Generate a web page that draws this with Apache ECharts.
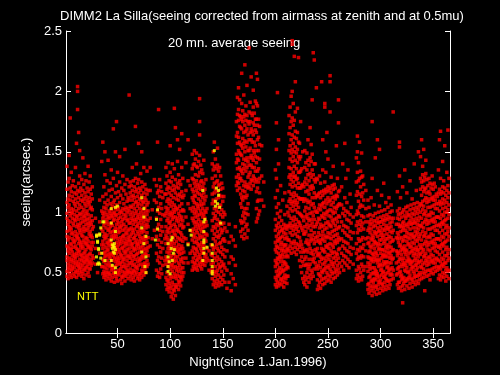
<!DOCTYPE html>
<html>
<head>
<meta charset="utf-8">
<script src="https://cdn.jsdelivr.net/npm/echarts@6/dist/echarts.min.js"></script>
<style>
  html, body { margin: 0; padding: 0; background: #000; }
  #main { width: 500px; height: 375px; }
</style>
</head>
<body>
<div id="main"></div>
<script>
// each row: night, then the 20 mn seeing values of that night (in 1/100 arcsec)
const redJanMar = [
  [2, 47,51,60,63,72,80,84,95,99,108,119,138],
  [3, 45,54,57,68,71,77,90,93,104,111,125],
  [4, 50,53,62,66,79,85,88,101,106,114,128,147],
  [5, 48,56,59,70,74,87,92,97,110,120,178],
  [6, 46,52,61,69,73,82,86,99,103,117,133],
  [7, 53,55,64,67,78,83,95,100,113,122],
  [8, 49,58,60,71,76,89,91,102,109,126],
  [9, 47,54,63,65,75,81,94,98,107,116],
  [10, 51,57,62,72,77,84,93,105,111,121,137],
  [11, 46,50,59,66,70,80,88,96,101,115,157],
  [12, 52,56,64,69,79,82,90,97,108,118,185,200,204],
  [13, 48,55,58,67,74,78,87,94,103,112,124,166],
  [14, 50,53,61,68,76,85,89,99,106,117,130,151],
  [15, 54,57,65,71,73,83,91,98,110,120],
  [16, 47,51,60,64,75,81,86,95,104,114,127],
  [17, 49,56,62,70,72,80,92,100,109,118,145],
  [18, 45,53,59,66,77,84,88,97,102,111,123],
  [19, 52,58,63,67,75,86,93,96,107,116,132],
  [20, 48,54,61,69,74,79,90,99,105,113,126],
  [21, 55,60,64,73,78,85,94,101,110,120],
  [22, 50,57,62,71,76,87,91,98,108,117,138],
  [23, 47,53,59,65,72,82,89,95,106,112,125],
  [24, 53,58,66,70,80,84,92,103,109,119,130],
  [25, 56,61,69,75,81,90,97,104,115],
  [26, 58,64,72,79,86,93,102,111,121],
  [27, 62,75,88],
  [29, 57,70,95],
  [31, 50,81],
  [33, 66,92,110],
  [35, 55,73,86,101,142],
  [36, 49,55,61,70,76,84,95,99,113,158],
  [37, 46,51,59,66,73,80,89,97,104,121],
  [38, 48,54,63,67,78,82,91,100,108,131,150],
  [39, 44,50,57,64,71,79,87,94,103,115],
  [40, 47,53,60,68,75,81,92,98,106,126],
  [41, 50,56,65,69,74,85,90,96,110,143],
  [42, 45,49,58,63,72,77,86,95,101,118],
  [43, 48,55,62,66,76,83,88,99,107,124],
  [44, 43,52,56,65,73,80,91,97,102,113,135],
  [45, 46,54,60,71,74,84,89,96,105,119],
  [46, 49,53,64,67,78,81,93,99,108,128,169],
  [47, 42,50,55,62,70,79,85,94,100,110],
  [48, 47,51,59,68,72,82,87,97,103,116,150],
  [49, 45,56,61,66,75,80,90,98,106,122,175],
  [50, 43,49,58,63,71,78,86,93,102,112,133],
  [51, 48,52,60,69,73,83,91,95,104,117],
  [52, 50,57,62,67,76,84,88,99,108,125,146],
  [53, 44,53,58,65,74,79,87,96,101,114],
  [54, 41,47,55,64,70,77,89,92,100,120],
  [55, 46,51,59,62,71,80,85,94,103,111,130],
  [56, 48,55,61,68,75,81,90,98,107,118],
  [57, 43,50,57,66,72,78,86,95,102,123,152],
  [58, 47,54,63,67,74,83,88,97,104,115],
  [59, 49,52,60,69,76,82,93,100,109,127],
  [60, 45,51,56,64,73,79,85,94,103,112],
  [61, 50,58,63,70,77,86,91,101,110,121,197],
  [62, 47,53,62,67,76,80,91,98,105,116,125],
  [63, 44,50,58,65,73,82,87,95,104,113,122],
  [64, 49,56,60,71,74,85,93,100,110,118,137],
  [65, 46,52,63,68,78,83,90,97,106,114,126],
  [66, 43,51,57,64,70,79,86,94,103,112,121],
  [67, 48,55,61,69,75,81,92,99,108,117,128,171],
  [68, 50,54,65,72,77,88,94,101,109,119,140],
  [69, 45,53,59,66,74,84,89,96,105,113,124],
  [70, 47,56,62,70,73,82,91,98,107,116,127,157],
  [71, 44,49,60,67,76,80,87,95,103,111,120],
  [72, 49,57,61,71,78,85,93,100,110,118,132],
  [73, 46,52,63,68,75,83,90,97,106,114,125,150],
  [74, 51,55,64,72,79,86,95,102,109,121],
  [75, 48,57,62,69,77,84,92,99,108,116,137],
  [76, 53,58,66,74,80,89,96,104,112,123],
  [77, 50,56,65,70,78,87,94,101,110,119],
  [78, 55,60,68,75,83,90,98,106,115,134],
  [79, 57,64,71,79,88,93,101,108,118],
  [81, 72,95,118,137],
  [83, 78,102],
  [85, 85,110,127],
  [87, 52,66,80,95,108,122],
  [88, 47,60,73,87,101,116,158],
  [89, 50,63,77,90,104,118,185],
  [90, 46,58,71,85,99,113,127]
];
const redAprJun = [
  [91, 53,67,81,94,107,121],
  [92, 49,62,75,88,103,117],
  [93, 56,70,84,98,112],
  [95, 60,78,97,115],
  [96, 40,46,57,63,74,81,88,99,104,115,124,137],
  [97, 36,44,50,61,67,79,84,93,101,109,119,130],
  [98, 38,43,55,60,70,77,86,95,103,111,121,141],
  [99, 34,41,48,58,66,72,83,91,98,107,116,126],
  [100, 37,45,53,62,68,75,87,92,100,110,120,133,155],
  [101, 30,39,47,56,64,73,80,89,97,105,114,125],
  [102, 33,42,51,57,69,76,84,94,99,108,118,129,140],
  [103, 28,36,46,54,61,71,78,85,96,102,112,122],
  [104, 35,40,49,59,65,74,82,90,100,106,119,136,186],
  [105, 31,38,47,55,63,69,81,88,96,104,116,127,170],
  [106, 38,45,52,60,71,76,85,93,102,111,121],
  [107, 40,48,54,63,68,79,86,95,103,114,124,142,160],
  [108, 36,43,51,58,67,73,84,92,99,110,120,131],
  [109, 42,47,56,65,70,78,89,97,105,115,126,152],
  [110, 39,46,53,61,69,77,83,94,101,113,123],
  [111, 44,50,59,66,72,81,90,96,107,117,137,165],
  [112, 47,54,62,70,76,87,93,102,112,128],
  [113, 50,58,67,79,88,101,114],
  [115, 62,78,96,118,141],
  [117, 58,74,90,107,126,160],
  [119, 66,85,103,122],
  [121, 52,59,68,77,84,95,101,112,119,128,136,148],
  [122, 55,62,71,80,86,93,104,110,117,127,139],
  [123, 53,58,66,75,82,91,99,108,114,124,140,151],
  [124, 57,64,70,79,88,96,102,113,121,131,144],
  [125, 54,60,69,76,85,92,100,107,118,126,138,149],
  [126, 52,61,67,74,83,90,97,105,116,123,137],
  [127, 56,63,72,78,87,94,103,111,120,130,142],
  [128, 58,65,73,81,89,98,106,115,122,133,147,164,175,194],
  [129, 55,62,70,79,86,92,101,109,119,125,139],
  [130, 53,59,68,75,84,90,99,106,114,126,135],
  [131, 57,66,72,80,87,96,103,112,121,132],
  [132, 60,67,74,83,91,98,107,116,124,143],
  [133, 56,63,71,78,88,95,101,110,119],
  [134, 59,65,76,82,92,100,113,127],
  [135, 62,70,81,89,103],
  [137, 52,60,68],
  [139, 50,57,65,73],
  [140, 45,53,64,72,85,93,107,115,128,140],
  [141, 40,49,58,69,78,88,99,110,121,135,150],
  [142, 43,51,62,71,82,95,103,116,124,138,158],
  [143, 38,47,55,66,76,87,97,108,119,130,144],
  [144, 41,50,60,73,80,90,101,111,125,136],
  [145, 44,52,63,70,84,94,104,117,126,139,153],
  [146, 39,48,57,68,79,89,100,112,122,134],
  [147, 42,54,61,74,81,92,105,114,123,137],
  [148, 46,55,67,75,86,98,106,119,130],
  [149, 40,51,59,71,83,90,102,113,124],
  [150, 44,56,65,77,85,96,109,120],
  [151, 48,57,69,78,91,100,113],
  [152, 42,54,63,76,87,98],
  [154, 37,52,68,84],
  [156, 42,58,75,90],
  [158, 35,49,63,80],
  [160, 45,61,77],
  [162, 40,56,72,88],
  [163, 122,129,141,148,163,175],
  [164, 118,125,136,144,157,166,181,195],
  [165, 124,131,143,151,162,176,185,203],
  [166, 120,128,137,149,158,171,180,193],
  [167, 84,93,107,115,128,135,148,156,170,179],
  [168, 80,91,104,112,126,134,147,155,169,177,190,215],
  [169, 86,97,110,118,132,140,153,161,175,184],
  [170, 78,92,100,113,122,136,144,157,166,179,197],
  [171, 82,95,103,117,125,139,150,159,172,181,222],
  [172, 88,99,112,121,134,143,154,167,176,188],
  [173, 79,90,103,114,123,137,145,158,169,180,205],
  [174, 85,98,107,120,129,142,151,164,175],
  [175, 121,131,139,151,160,173,183,236],
  [176, 124,133,145,153,166,175,191],
  [177, 119,127,139,147,160,169,182,212],
  [178, 126,137,145,158,167,180],
  [179, 122,130,143,151,164,174,187,201],
  [180, 128,137,149,158,172,182],
  [181, 125,134,146,155,168,177,192]
];
const redJulSep = [
  [182, 92,103,117,127,141,151,166,177,190,215],
  [183, 95,109,120,134,145,160,172,188,210],
  [184, 98,110,125,136,151,162,177],
  [185, 101,116,128,144,156,171],
  [187, 110,130,155],
  [189, 105,125],
  [200, 40,46,55,60,69,75,85,94,112,135],
  [201, 38,44,51,58,67,72,80,89,104,128,152,174],
  [202, 42,48,57,62,71,77,87,99,118,199],
  [203, 39,47,52,61,66,76,82,91,107,140,160],
  [204, 41,49,54,63,70,78,84,96],
  [205, 44,50,59,64,73,79,88,101,122],
  [206, 40,45,53,62,68,75,85,93],
  [207, 43,51,56,65,70,80,86,110],
  [208, 38,46,52,59,68,73,83,90],
  [209, 42,48,58,63,72,78,87,98,116],
  [210, 45,53,57,67,73,82,89],
  [211, 41,47,55,64,69,79,86,105],
  [212, 47,54,63,70,77,88,100],
  [213, 68,77,89,97,109,117,129,137,151,165,180],
  [214, 72,83,91,103,111,123,131,144,155,170,187],
  [215, 66,75,87,95,107,115,127,136,149,160,175,196],
  [216, 70,81,89,101,109,121,130,142,152,164,178,200,242,239],
  [217, 74,85,93,105,113,125,133,146,157,172,190],
  [218, 67,76,88,96,108,116,129,138,150,162,176,229],
  [219, 71,82,90,102,110,122,130,143,154,167,183,208],
  [220, 65,74,86,94,106,114,127,136,149,161],
  [221, 69,80,88,100,108,120,128,141,152,166,186],
  [222, 73,84,92,104,112,124,133,146,158,228],
  [223, 60,71,79,91,99,111,120,133,144,157],
  [224, 55,67,76,89,98,111,120,134,146,175],
  [225, 50,63,73,87,97,111,122,136],
  [226, 45,59,70,85,96,111,123,150],
  [227, 42,56,67,82,93,109,121],
  [228, 40,47,61,68,82,88,101,111,125,137,151],
  [229, 44,56,63,75,84,96,104,117,128,141],
  [230, 38,50,57,69,77,90,98,110,123,135,149],
  [231, 46,53,67,74,87,95,108,118,131,143,160],
  [232, 42,55,61,73,81,93,103,115,126,139],
  [233, 48,57,70,76,89,99,109,121,132,145,170],
  [234, 45,52,66,78,85,94,106,119,129,142,156],
  [235, 50,61,68,81,91,100,112,122,135,148,193],
  [236, 47,59,65,77,88,97,107,120,131,232],
  [237, 53,62,74,83,94,104,116,127,140,226],
  [238, 58,69,79,88,101,112,125,140],
  [239, 55,67,76,90,100,114,128,203],
  [240, 36,44,53,64,70,80,92,100,113,127],
  [241, 39,49,56,65,77,83,95,103,115],
  [242, 42,48,59,66,75,87,94,106,116,130],
  [243, 37,47,54,63,74,81,90,102,112,124],
  [244, 44,51,61,70,77,88,97,105,117,208],
  [245, 40,50,57,68,78,84,96,107,114,135,160],
  [246, 45,52,62,69,81,89,99,108,118],
  [247, 41,53,58,67,76,86,95,104,116,125,187,190],
  [248, 46,55,60,72,79,91,98,110,119,133,150],
  [249, 43,50,63,71,80,87,100,107,117,166],
  [250, 48,54,65,73,83,92,101,112,121,144],
  [251, 44,56,61,70,79,90,97,109,118],
  [252, 47,53,64,74,82,89,102,110,120,183,208,213],
  [253, 42,51,59,68,78,88,96,106,116,129],
  [254, 49,57,66,73,84,93,101,112,122],
  [255, 45,55,62,71,80,91,99,108,119,138],
  [256, 50,58,67,76,85,94,104,113,123],
  [257, 46,53,63,74,81,89,100,111,120],
  [258, 51,60,66,77,86,95,103,114,155],
  [259, 48,56,65,75,82,92,105,113,128],
  [260, 53,62,69,79,87,97,106,117,174,193],
  [261, 50,58,70,77,88,96,107,118],
  [263, 55,66,78,92,106,121],
  [264, 60,72,85,99,140],
  [265, 52,64,76,89,103],
  [266, 58,70,83,97,112,157],
  [267, 63,75,88,101,128],
  [268, 56,68,81,94,108],
  [269, 61,74,87,100,135],
  [270, 54,67,80,93],
  [271, 59,71,84,98,115],
  [272, 65,78,91,104]
];
const redOctDec = [
  [274, 57,70,83,96],
  [277, 45,52,66,74,89,98,114,125,145],
  [278, 48,61,69,83,92,101,117,133,150,163],
  [279, 43,55,63,78,86,99,109,126,141],
  [280, 46,53,68,76,90,104,115,128,158],
  [281, 50,62,71,85,93,106,121,134],
  [282, 44,57,64,77,88,97,113,129,149],
  [283, 47,55,70,79,91,105,116,130],
  [284, 52,63,73,86,96,110,123],
  [286, 55,68,78,92,103,118],
  [288, 36,40,51,58,63,74,79,85,97,110],
  [289, 33,41,46,55,62,67,75,87,92,104],
  [290, 38,47,53,57,68,72,83,90,98],
  [291, 35,43,49,60,62,71,78,86,94,112],
  [292, 31,39,44,54,61,66,77,81,91,128,175],
  [293, 37,42,50,59,65,73,79,88,97],
  [294, 34,45,49,54,63,70,76,84,93,106],
  [295, 39,44,52,61,67,75,82,89,99,145],
  [296, 32,38,48,51,60,66,74,83,92],
  [297, 36,46,49,58,64,72,80,87,95,118,160],
  [298, 40,43,55,61,69,74,84,91,100],
  [299, 33,42,47,56,60,70,77,85,92,105,152],
  [300, 37,44,52,57,66,73,81,88,96],
  [301, 41,48,53,62,69,77,83,92,101,114],
  [302, 35,40,50,56,64,69,79,86,94],
  [303, 38,46,51,59,65,74,81,90,97,124],
  [304, 42,47,57,63,68,76,85,93,102],
  [305, 36,45,49,58,64,71,78,87,95,108],
  [306, 39,44,54,59,67,73,82,89,98],
  [307, 43,50,55,63,70,78,86,94,104],
  [308, 37,43,52,58,66,72,80,87,96,112],
  [309, 40,48,53,62,67,75,84,91,100],
  [310, 44,49,58,64,71,79,88,95,106],
  [311, 48,54,61,68,76,83,92,101],
  [312, 45,52,62,69,77,85,95,183],
  [315, 48,58,68,79,90],
  [316, 40,49,53,64,67,78,83,95,101,117],
  [317, 37,42,54,59,66,75,81,90,98],
  [318, 42,50,55,61,72,78,88,94,103,130,154,158],
  [319, 38,47,51,62,68,73,84,89,99,112],
  [320, 35,44,48,57,65,71,79,88,96],
  [321, 25,39,45,55,60,69,76,85,91,100,121],
  [322, 41,46,57,62,70,77,87,92,102],
  [323, 36,43,52,58,67,72,80,89,97,135],
  [324, 43,51,56,65,69,80,85,95,104],
  [325, 39,45,54,60,68,76,83,90,100,116],
  [326, 44,50,59,63,73,79,88,97,105],
  [327, 37,46,51,61,66,74,82,91,98],
  [328, 41,48,57,60,71,78,86,93,102,126],
  [329, 45,53,58,67,72,81,90,96,106],
  [330, 38,44,55,59,68,75,82,91,99,111],
  [331, 42,51,54,64,70,79,87,94,103],
  [332, 46,49,60,66,74,80,91,98,107,140],
  [333, 40,47,56,62,69,77,84,92,101],
  [334, 43,52,57,65,71,81,87,95,104,118],
  [335, 47,54,60,68,76,83,90,99,108],
  [336, 41,48,58,63,69,78,86,93,102,150],
  [337, 44,50,59,66,73,80,89,96,105],
  [338, 48,55,65,71,82,89,100,107,119,128,146],
  [339, 45,54,60,70,77,88,95,106,114,125,160],
  [340, 50,57,67,73,84,91,102,109,121,131,138],
  [341, 46,53,63,69,80,87,98,105,117,126,152],
  [342, 35,49,58,64,74,81,92,99,110,119,129],
  [343, 51,60,66,76,83,94,101,112,120,132,143],
  [344, 47,56,62,72,79,90,97,108,116,127],
  [345, 52,59,69,75,86,93,104,111,122],
  [346, 48,57,63,73,80,91,98,109,117,128],
  [347, 44,52,62,68,79,86,97,104,115,124],
  [348, 50,59,65,75,82,93,100,111,120],
  [349, 53,60,70,76,87,94,105,112,123,130],
  [350, 49,58,64,74,81,92,99,110,119],
  [351, 54,61,71,77,88,95,106,113,124],
  [352, 51,58,68,74,85,92,103,110,121],
  [353, 55,62,72,78,89,96,107,115],
  [354, 52,61,67,78,85,96,103,113],
  [355, 45,54,60,71,78,89,96,107,116,135],
  [356, 48,55,65,72,83,90,101,109,119,160],
  [357, 44,53,59,70,77,88,95,106,115,128,167],
  [358, 47,56,62,73,80,91,98,108,117],
  [359, 50,57,67,74,85,92,103,111,121,142],
  [360, 46,55,61,72,79,90,97,107,116,126],
  [361, 49,58,64,75,82,93,100,110,120,155],
  [362, 43,52,58,69,76,87,94,104,114],
  [363, 47,54,64,71,82,89,100,108,118,133],
  [364, 51,60,66,77,84,95,102,112,122,168],
  [365, 45,52,62,69,80,87,98,106,116,128]
];
// NTT points: [night, seeing in 1/100 arcsec]
const yellowNTT = [
  [30,81],[33,81],[31,75],[34,87],[32,70],[30,63],[35,66],[32,58],[33,57],[38,60],
  [30,80],[33,82],[31,76],[32,69],[34,62],[31,57],[36,92],
  [44,103],[48,104],[44,91],[48,84],[44,77],[47,74],[45,70],[46,67],[47,66],[48,69],
  [44,60],[45,56],[48,54],[48,50],[37,92],[50,105],[46,72],[45,73],[47,71],
  [73,112],[75,103],[75,96],[73,87],[77,80],[75,74],[73,67],[77,63],[76,55],[77,50],
  [87,94],[88,86],[86,77],[88,102],
  [102,79],[101,70],[104,69],[98,63],[102,60],[98,55],[100,49],[98,74],[101,77],[99,59],[98,51],[103,66],
  [117,73],[119,85],[120,81],[132,92],[132,75],[135,71],[131,118],[133,94],[132,84],[132,77],[132,70],[132,66],[131,60],
  [140,73],[140,66],[140,60],[140,55],[140,49],[140,51],
  [142,151],[144,120],[146,118],[146,114],[143,109],[145,107],[143,105],[147,104],[148,91]
];
const xTicks = [50, 100, 150, 200, 250, 300, 350];

function toPoints(rows) {
  const pts = [];
  rows.forEach(function (row) {
    for (let i = 1; i < row.length; i++) pts.push([row[0], row[i] / 100]);
  });
  return pts;
}
const redData = toPoints(redJanMar.concat(redAprJun, redJulSep, redOctDec));
const yellowData = yellowNTT.map(function (p) { return [p[0], p[1] / 100]; });

const font = 'Liberation Sans, Arial, sans-serif';
const white = '#ffffff';
const chart = echarts.init(document.getElementById('main'));
const option = {
  backgroundColor: '#000000',
  animation: false,
  title: {
    text: 'DIMM2 La Silla(seeing corrected from airmass at zenith and at 0.5mu)',
    left: 55,
    top: 5,
    textStyle: { color: white, fontSize: 13, fontWeight: 'normal', fontFamily: font }
  },
  grid: { left: 66, right: 50, top: 31, bottom: 42 },
  xAxis: [{
    type: 'value', min: 1, max: 366, position: 'bottom',
    name: 'Night(since 1.Jan.1996)', nameLocation: 'middle', nameGap: 21,
    nameTextStyle: { color: white, fontSize: 13, fontFamily: font },
    axisLine: { lineStyle: { color: white, width: 1 } },
    axisTick: { inside: true, length: 5, customValues: xTicks, lineStyle: { color: white } },
    axisLabel: { customValues: xTicks, color: white, fontSize: 13, fontFamily: font, margin: 5 },
    splitLine: { show: false }
  }, {
    type: 'value', min: 1, max: 366, position: 'top',
    axisLine: { lineStyle: { color: white, width: 1 } },
    axisTick: { inside: true, length: 5, customValues: xTicks, lineStyle: { color: white } },
    axisLabel: { show: false },
    splitLine: { show: false }
  }],
  yAxis: [{
    type: 'value', min: 0, max: 2.5, interval: 0.5, position: 'left',
    name: 'seeing(arcsec.)', nameLocation: 'middle', nameGap: 26,
    nameTextStyle: { color: white, fontSize: 13, fontFamily: font },
    axisLine: { show: true, lineStyle: { color: white, width: 1 } },
    axisTick: { show: true, inside: true, length: 5, lineStyle: { color: white } },
    axisLabel: { color: white, fontSize: 13, fontFamily: font, margin: 4 },
    splitLine: { show: false }
  }, {
    type: 'value', min: 0, max: 2.5, interval: 0.5, position: 'right',
    axisLine: { show: true, lineStyle: { color: white, width: 1 } },
    axisTick: { show: true, inside: true, length: 5, lineStyle: { color: white } },
    axisLabel: { show: false },
    splitLine: { show: false }
  }],
  graphic: [
    { type: 'text', left: 168, top: 37, style: { text: '20 mn. average seeing', fill: white, fontSize: 13, fontFamily: font } },
    { type: 'text', left: 77, top: 291, style: { text: 'NTT', fill: '#ffff00', fontSize: 11, fontFamily: font } }
  ],
  series: [{
    type: 'scatter', xAxisIndex: 0, yAxisIndex: 0,
    symbol: 'rect', symbolSize: 3.5, silent: true,
    itemStyle: { color: '#ff0000' },
    data: redData
  }, {
    type: 'scatter', xAxisIndex: 0, yAxisIndex: 0,
    symbol: 'rect', symbolSize: 3, silent: true,
    itemStyle: { color: '#ffff00' },
    data: yellowData
  }]
};
chart.setOption(option);
</script>
</body>
</html>
